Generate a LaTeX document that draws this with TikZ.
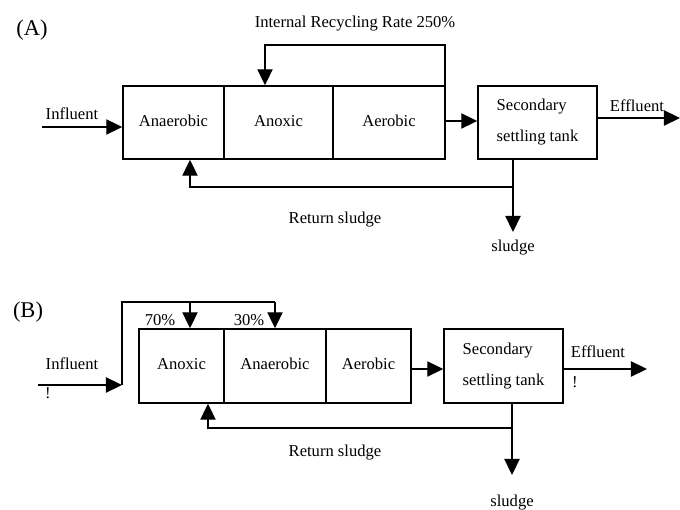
\documentclass[tikz,border=0pt]{standalone}
\usepackage{fontspec}
\setmainfont{Liberation Serif}
\usepackage{tikz}
\usetikzlibrary{arrows.meta}
\usetikzlibrary{positioning}

\tikzset{
  tank/.style={draw,line width=1pt,inner sep=0pt,minimum height=1.825cm},
  zone/.style={tank,text height=1.6ex,text depth=.4ex},
  lbl/.style={font=\fontsize{11.8}{14}\selectfont,inner sep=0pt},
  bigl/.style={font=\fontsize{16}{18}\selectfont,inner sep=0pt},
  flow/.style={line width=1pt,-{Triangle[length=0.4cm,width=0.38cm]}},
  pipe/.style={line width=1pt}
}

\begin{document}
\begin{tikzpicture}[x=0.025cm,y=-0.025cm]
\useasboundingbox (0,0) rectangle (680,510);
% (A)
        \node[bigl] (labA) at (32,30) {(A)};
        \node[lbl] (irr) at (355,24) {Internal Recycling Rate 250\%};
        \node[zone,lbl,minimum width=2.525cm] (anaA) at (173.5,122.5) {Anaerobic};
        \node[zone,lbl,minimum width=2.725cm] (anoA) at (278.5,122.5) {Anoxic};
        \node[zone,lbl,minimum width=2.8cm] (aerA) at (389,122.5) {Aerobic};
        \node[tank,lbl,minimum width=2.975cm,align=left] (tankA) at (537.5,122.5) {Secondary\\[8pt]settling tank};
        \node[lbl] (infA) at (72,114) {Influent};
        \node[lbl] (effA) at (637,106) {Effluent};
        \node[lbl] (retA) at (335,220) {Return sludge};
        \node[lbl] (sluA) at (513,248) {sludge};
        \coordinate (inA) at (42,127);
        \coordinate (outA) at (680,118);
        \coordinate (upA) at (445,45);
        \coordinate (dnA) at (265,45);
        \coordinate (jA) at (513,187);
        \coordinate (rA) at (190,187);
        \coordinate (wA) at (513,232);
        \draw[flow] (inA)--(inA -| anaA.west);
        \draw[flow] (aerA.east |- 0,121)--(tankA.west |- 0,121);
        \draw[flow] (tankA.east |- outA)--(outA);
        \draw[flow] (upA |- aerA.north)--(upA)--(dnA)--(dnA |- anoA.north);
        \draw[pipe] (tankA.south -| jA)--(jA);
        \draw[flow] (jA)--(rA)--(rA |- anaA.south);
        \draw[flow] (jA)--(wA);
% (B)
        \node[bigl] (labB) at (28,312) {(B)};
        \node[zone,lbl,minimum width=2.125cm,minimum height=1.85cm] (anoB) at (181.5,366) {Anoxic};
        \node[zone,lbl,minimum width=2.55cm,minimum height=1.85cm] (anaB) at (275,366) {Anaerobic};
        \node[zone,lbl,minimum width=2.125cm,minimum height=1.85cm] (aerB) at (368.5,366) {Aerobic};
        \node[tank,lbl,minimum width=2.975cm,minimum height=1.85cm,align=left] (tankB) at (503.5,366) {Secondary\\[8pt]settling tank};
        \node[lbl] (infB) at (72,364) {Influent};
        \node[lbl] (exB) at (48,393) {!};
        \node[lbl] (effB) at (598,352) {Effluent};
        \node[lbl] (exB2) at (575,382) {!};
        \node[lbl] (p70) at (160,320) {70\%};
        \node[lbl] (p30) at (249,320) {30\%};
        \node[lbl] (retB) at (335,453) {Return sludge};
        \node[lbl] (sluB) at (512,503) {sludge};
        \coordinate (inB) at (38,385);
        \coordinate (cB) at (122,385);
        \coordinate (tB) at (122,302);
        \coordinate (b1) at (190,302);
        \coordinate (b2) at (275,302);
        \coordinate (outB) at (647,369);
        \coordinate (jB) at (512,428);
        \coordinate (rB) at (208,428);
        \coordinate (wB) at (512,475);
        \draw[flow] (inB)--(cB);
        \draw[pipe] (cB)--(tB)--(b2);
        \draw[flow] (b1)--(b1 |- anoB.north);
        \draw[flow] (b2)--(b2 |- anaB.north);
        \draw[flow] (aerB.east |- outB)--(tankB.west |- outB);
        \draw[flow] (tankB.east |- outB)--(outB);
        \draw[pipe] (tankB.south -| jB)--(jB);
        \draw[flow] (jB)--(rB)--(rB |- anoB.south);
        \draw[flow] (jB)--(wB);
    \end{tikzpicture}
\end{document}
